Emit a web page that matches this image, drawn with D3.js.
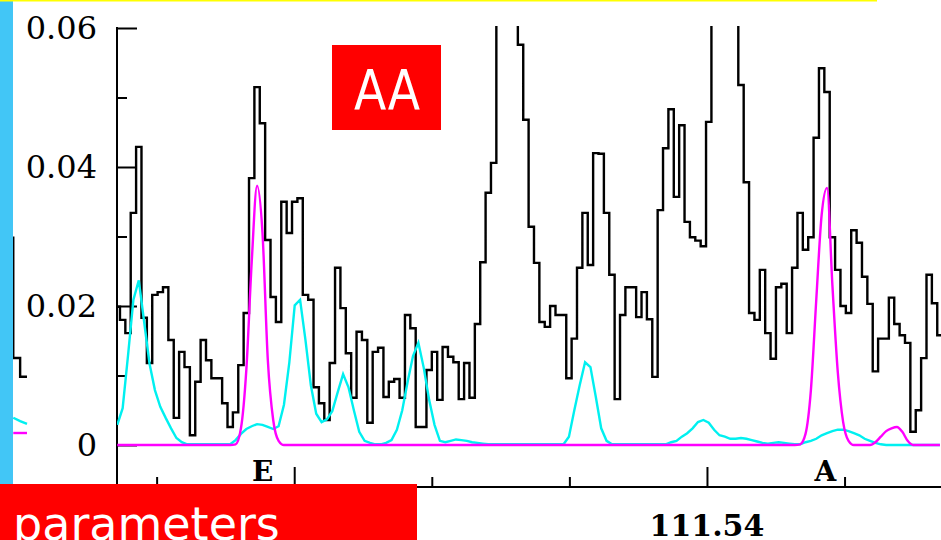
<!DOCTYPE html>
<html>
<head>
<meta charset="utf-8">
<script src="https://cdn.jsdelivr.net/npm/d3@7"></script>
<style>
  html, body { margin: 0; padding: 0; background: #fff; }
  svg { display: block; }
</style>
</head>
<body>
<div id="chart"></div>
<script>
// histogram bins: first bin edge and width (x units)
const binStart = 111.496945;
const binWidth = 0.0003908;

// observed counts per bin (black step line)
const observed = [
  0.0199, 0.0180, 0.0161, 0.0334, 0.0429, 0.0183, 0.0118, 0.0216, 0.0220, 0.0227,
  0.0151, 0.0039, 0.0134, 0.0112, 0.0014, 0.0091, 0.0151, 0.0122, 0.0096, 0.0096,
  0.0060, 0.0026, 0.0047, 0.0115, 0.0190, 0.0384, 0.0515, 0.0463, 0.0295, 0.0213,
  0.0177, 0.0350, 0.0305, 0.0350, 0.0355, 0.0216, 0.0209, 0.0083, 0.0060, 0.0036,
  0.0118, 0.0255, 0.0197, 0.0132, 0.0068, 0.0163, 0.0151, 0.0032, 0.0134, 0.0140,
  0.0069, 0.0091, 0.0095, 0.0068, 0.0187, 0.0168, 0.0026, 0.0026, 0.0108, 0.0134,
  0.0065, 0.0141, 0.0127, 0.0119, 0.0066, 0.0118, 0.0068, 0.0174, 0.0263, 0.0363,
  0.0406, 0.0680, 0.0770, 0.0740, 0.0660, 0.0576, 0.0468, 0.0314, 0.0262, 0.0177,
  0.0170, 0.0200, 0.0187, 0.0187, 0.0096, 0.0153, 0.0255, 0.0334, 0.0259, 0.0420,
  0.0419, 0.0334, 0.0245, 0.0066, 0.0187, 0.0227, 0.0227, 0.0184, 0.0220, 0.0181,
  0.0098, 0.0338, 0.0427, 0.0483, 0.0357, 0.0460, 0.0321, 0.0299, 0.0294, 0.0286,
  0.0465, 0.0660, 0.0750, 0.0810, 0.0720, 0.0680, 0.0518, 0.0378, 0.0190, 0.0180,
  0.0252, 0.0161, 0.0124, 0.0227, 0.0232, 0.0161, 0.0255, 0.0334, 0.0281, 0.0299,
  0.0442, 0.0542, 0.0508, 0.0299, 0.0252, 0.0200, 0.0190, 0.0309, 0.0291, 0.0242,
  0.0203, 0.0106, 0.0153, 0.0153, 0.0212, 0.0174, 0.0158, 0.0147, 0.0019, 0.0050,
  0.0125, 0.0245, 0.0204, 0.0158
];

// model curves sampled at bin centres
const modelCyan = [
  0.0029, 0.0053, 0.0129, 0.0209, 0.0237, 0.0177, 0.0117, 0.0079, 0.0055, 0.0039,
  0.0024, 0.0010, 0.0004, 0.0001, 0.0001, 0.0001, 0.0001, 0.0001, 0.0001, 0.0001,
  0.0001, 0.0001, 0.0007, 0.0016, 0.0023, 0.0027, 0.0030, 0.0029, 0.0026, 0.0023,
  0.0027, 0.0058, 0.0119, 0.0201, 0.0209, 0.0151, 0.0086, 0.0045, 0.0033, 0.0037,
  0.0049, 0.0076, 0.0102, 0.0083, 0.0050, 0.0019, 0.0006, 0.0003, 0.0001, 0.0001,
  0.0003, 0.0007, 0.0022, 0.0050, 0.0091, 0.0128, 0.0147, 0.0111, 0.0065, 0.0029,
  0.0006, 0.0004, 0.0006, 0.0008, 0.0007, 0.0006, 0.0004, 0.0003, 0.0002, 0.0001,
  0.0001, 0.0001, 0.0001, 0.0001, 0.0001, 0.0001, 0.0001, 0.0001, 0.0001, 0.0001,
  0.0001, 0.0001, 0.0001, 0.0001, 0.0012, 0.0050, 0.0086, 0.0119, 0.0112, 0.0069,
  0.0024, 0.0006, 0.0001, 0.0001, 0.0001, 0.0001, 0.0001, 0.0001, 0.0001, 0.0001,
  0.0001, 0.0001, 0.0001, 0.0004, 0.0006, 0.0012, 0.0017, 0.0024, 0.0033, 0.0036,
  0.0032, 0.0022, 0.0014, 0.0012, 0.0009, 0.0009, 0.0010, 0.0009, 0.0007, 0.0005,
  0.0003, 0.0002, 0.0003, 0.0004, 0.0003, 0.0002, 0.0001, 0.0001, 0.0004, 0.0006,
  0.0009, 0.0014, 0.0017, 0.0020, 0.0022, 0.0022, 0.0020, 0.0017, 0.0014, 0.0009,
  0.0006, 0.0003, 0.0001, 0, 0, 0, 0, 0, 0, 0,
  0, 0, 0, 0
];

const modelMagenta = [
  0, 0, 0, 0, 0, 0, 0, 0, 0, 0,
  0, 0, 0, 0, 0, 0, 0, 0, 0, 0,
  0, 0, 0.0001, 0.0024, 0.0108, 0.0263, 0.0373, 0.0306, 0.0122, 0.0036,
  0.0006, 0, 0, 0, 0, 0, 0, 0, 0, 0,
  0, 0, 0, 0, 0, 0, 0, 0, 0, 0,
  0, 0, 0, 0, 0, 0, 0, 0, 0, 0,
  0, 0, 0, 0, 0, 0, 0, 0, 0, 0,
  0, 0, 0, 0, 0, 0, 0, 0, 0, 0,
  0, 0, 0, 0, 0, 0, 0, 0, 0, 0,
  0, 0, 0, 0, 0, 0, 0, 0, 0, 0,
  0, 0, 0, 0, 0, 0, 0, 0, 0, 0,
  0, 0, 0, 0, 0, 0, 0, 0, 0, 0,
  0, 0, 0, 0, 0, 0, 0, 0.0001, 0.0016, 0.0079,
  0.0209, 0.0331, 0.0370, 0.0230, 0.0105, 0.0033, 0.0006, 0, 0, 0,
  0, 0.0004, 0.0012, 0.0020, 0.0024, 0.0026, 0.0019, 0.0006, 0, 0,
  0, 0, 0, 0
];

const yTicksMajor = [0, 0.02, 0.04, 0.06];
const yTicksMinor = [0.01, 0.03, 0.05];
const xTicksMajor = [111.51, 111.54];
const xTicksMinor = [111.50, 111.52, 111.53, 111.55];
// the 111.51 label sits under the red "parameters" box, only 111.54 shows
const xTickLabels = [111.54];

const peakLabels = ['E', 'A'];
const peakPositions = [111.5077, 111.5486];

// cut-off neighbour panel at the far left edge
const prevStep = [0.0281, 0.0108, 0.0081];
const prevCyan = [0.0022, 0.0017, 0.0013];

const config = {
  width: 941,
  height: 540,
  left: 117,
  right: 941,
  top: 28,
  zeroY: 445,
  axisY: 487,
  xMin: 111.49712,
  xMax: 111.55701,
  yMax: 0.06,
  axisWidth: 2,
  lineWidth: 2.4,
  cyan: '#00f0f0',
  magenta: '#ff00ff',
  red: '#ff0000',
  blue: '#42c6f6',
  serif: '"DejaVu Serif", "Liberation Serif", serif',
  sans: '"DejaVu Sans", Verdana, sans-serif'
};

const svg = d3.select('#chart')
  .append('svg')
  .attr('width', config.width)
  .attr('height', config.height);

const x = d3.scaleLinear()
  .domain([config.xMin, config.xMax])
  .range([config.left, config.right]);

const y = d3.scaleLinear()
  .domain([0, config.yMax])
  .range([config.zeroY, config.top]);

svg.append('defs').append('clipPath')
  .attr('id', 'plot-clip')
  .append('rect')
  .attr('x', config.left)
  .attr('y', config.top - 2)
  .attr('width', config.right - config.left)
  .attr('height', config.axisY - config.top + 2);

// neighbour panel fragment (drawn under the blue bar)
const xPrev = d3.scaleLinear().domain([0, 3]).range([6.4, 27]);
const yPrev = d3.scaleLinear().domain([0, config.yMax]).range([433, 16]);
const prevG = svg.append('g').attr('fill', 'none').attr('stroke-width', config.lineWidth);
prevG.append('path')
  .datum(prevStep.concat([prevStep[prevStep.length - 1]]))
  .attr('stroke', '#000')
  .attr('d', d3.line().curve(d3.curveStepAfter).x((d, i) => xPrev(i)).y(d => yPrev(d)));
prevG.append('path')
  .datum(prevCyan)
  .attr('stroke', config.cyan)
  .attr('d', d3.line().x((d, i) => xPrev(i + 1)).y(d => yPrev(d)));
prevG.append('line')
  .attr('stroke', config.magenta)
  .attr('x1', xPrev(1)).attr('x2', xPrev(3))
  .attr('y1', yPrev(0)).attr('y2', yPrev(0));

svg.append('rect')
  .attr('x', 0).attr('y', 0)
  .attr('width', 13).attr('height', config.height)
  .attr('fill', config.blue);

// axes: ticks point into the plot
function styleAxis(g, size) {
  g.select('.domain').remove();
  g.selectAll('.tick line').attr('stroke', '#000').attr('stroke-width', config.axisWidth);
  g.attr('font-family', config.serif).attr('font-size', size);
}

svg.append('g')
  .attr('transform', `translate(${config.left},0)`)
  .call(d3.axisLeft(y).tickValues(yTicksMajor).tickSize(-20).tickPadding(20)
    .tickFormat(d => d === 0 ? '0' : d3.format('.2f')(d)))
  .call(g => styleAxis(g, 32))
  .call(g => g.selectAll('text').attr('fill', '#000'));

svg.append('g')
  .attr('transform', `translate(${config.left},0)`)
  .call(d3.axisLeft(y).tickValues(yTicksMinor).tickSize(-10).tickFormat(''))
  .call(g => styleAxis(g, 10));

svg.append('g')
  .attr('transform', `translate(0,${config.axisY})`)
  .call(d3.axisBottom(x).tickValues(xTicksMajor).tickSize(-20).tickFormat(''))
  .call(g => styleAxis(g, 10));

svg.append('g')
  .attr('transform', `translate(0,${config.axisY})`)
  .call(d3.axisBottom(x).tickValues(xTicksMinor).tickSize(-10).tickFormat(''))
  .call(g => styleAxis(g, 10));

svg.append('g')
  .selectAll('text')
  .data(xTickLabels)
  .enter().append('text')
  .attr('x', d => x(d))
  .attr('y', 536)
  .attr('text-anchor', 'middle')
  .attr('font-family', config.serif)
  .attr('font-weight', 'bold')
  .attr('font-size', 30)
  .text(d3.format('.2f'));

svg.append('line')
  .attr('x1', config.left).attr('x2', config.left)
  .attr('y1', y(config.yMax) - 1).attr('y2', config.axisY + 1)
  .attr('stroke', '#000').attr('stroke-width', config.axisWidth);

svg.append('line')
  .attr('x1', config.left).attr('x2', config.right)
  .attr('y1', config.axisY).attr('y2', config.axisY)
  .attr('stroke', '#000').attr('stroke-width', config.axisWidth);

// data lines
const plot = svg.append('g')
  .attr('clip-path', 'url(#plot-clip)')
  .attr('fill', 'none')
  .attr('stroke-width', config.lineWidth)
  .attr('stroke-linejoin', 'miter');

const stepPoints = observed.map((v, i) => [binStart + i * binWidth, v]);
stepPoints.push([binStart + observed.length * binWidth, observed[observed.length - 1]]);

plot.append('path')
  .datum(stepPoints)
  .attr('stroke', '#000')
  .attr('d', d3.line().curve(d3.curveStepAfter).x(d => x(d[0])).y(d => y(d[1])));

const centre = i => binStart + (i + 0.5) * binWidth;

plot.append('path')
  .datum(modelCyan)
  .attr('stroke', config.cyan)
  .attr('d', d3.line().x((d, i) => x(centre(i))).y(d => y(d)));

plot.append('path')
  .datum(modelMagenta)
  .attr('stroke', config.magenta)
  .attr('d', d3.line().curve(d3.curveMonotoneX).x((d, i) => x(centre(i))).y(d => y(d)));

svg.append('g')
  .selectAll('text')
  .data(peakLabels)
  .enter().append('text')
  .attr('x', (d, i) => x(peakPositions[i]))
  .attr('y', 481)
  .attr('text-anchor', 'middle')
  .attr('font-family', config.serif)
  .attr('font-weight', 'bold')
  .attr('font-size', 28)
  .text(d => d);

// overlay labels
svg.append('rect')
  .attr('x', 332).attr('y', 45)
  .attr('width', 109).attr('height', 85)
  .attr('fill', config.red);
svg.append('text')
  .attr('x', 387).attr('y', 109)
  .attr('text-anchor', 'middle')
  .attr('font-family', config.sans)
  .attr('font-size', 56)
  .attr('textLength', 66)
  .attr('lengthAdjust', 'spacingAndGlyphs')
  .attr('fill', '#fff')
  .text('AA');

svg.append('rect')
  .attr('x', 0).attr('y', 484)
  .attr('width', 417).attr('height', 60)
  .attr('fill', config.red);
svg.append('text')
  .attr('x', 13).attr('y', 540)
  .attr('font-family', config.sans)
  .attr('font-size', 46)
  .attr('fill', '#fff')
  .text('parameters');

svg.append('rect')
  .attr('x', 0).attr('y', 0)
  .attr('width', 877).attr('height', 1.5)
  .attr('fill', '#ffff00');
</script>
</body>
</html>
